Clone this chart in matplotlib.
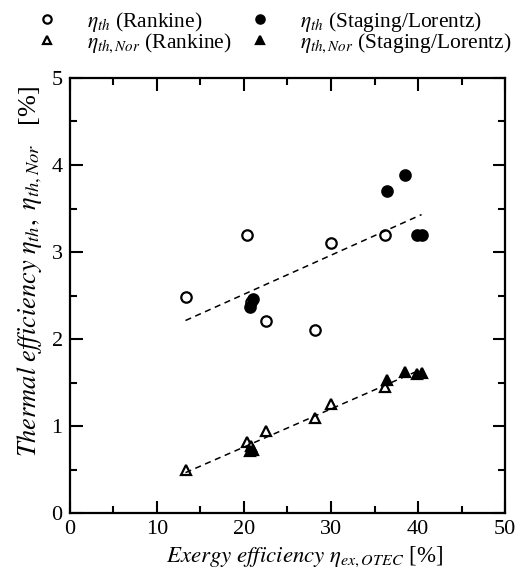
import numpy as np
import matplotlib
matplotlib.use("Agg")
import matplotlib.pyplot as plt
from matplotlib.ticker import MultipleLocator

plt.rcParams['font.family'] = ['Liberation Serif', 'DejaVu Serif']
plt.rcParams['mathtext.fontset'] = 'stix'

# thermal efficiency, Rankine cycles
ex_rank = [13.3, 20.4, 20.8, 22.5, 28.2, 30.0, 36.2]
th_rank = [2.49, 3.20, 2.43, 2.21, 2.11, 3.10, 3.20]
# thermal efficiency, staging / Lorentz cycles
ex_stag = [20.7, 21.1, 36.4, 38.5, 39.9, 40.4]
th_stag = [2.37, 2.46, 3.70, 3.89, 3.20, 3.20]
# normalised thermal efficiency
nor_rank = [0.50, 0.82, 0.77, 0.95, 1.09, 1.26, 1.45]
nor_stag = [0.72, 0.73, 1.53, 1.62, 1.60, 1.61]

fig = plt.figure(figsize=(5.16, 5.68), dpi=100)
ax = fig.add_axes([0.135, 0.096, 0.844, 0.767])

ms = 7.5
h1, = ax.plot(ex_rank, th_rank, 'o', mfc='white', mec='black', mew=1.6, ms=ms, ls='none')
h2, = ax.plot(ex_stag, th_stag, 'o', mfc='black', mec='black', mew=1.6, ms=ms, ls='none')
h3, = ax.plot(ex_rank, nor_rank, '^', mfc='white', mec='black', mew=1.6, ms=ms, ls='none')
h4, = ax.plot(ex_stag, nor_stag, '^', mfc='black', mec='black', mew=1.6, ms=ms, ls='none')

# linear fits over all points
x_all = np.array(ex_rank + ex_stag)
for y_all in (th_rank + th_stag, nor_rank + nor_stag):
    k, b = np.polyfit(x_all, np.array(y_all), 1)
    xs = np.array([x_all.min(), x_all.max()])
    ax.plot(xs, k * xs + b, '--', color='black', lw=1.1, dashes=(4, 3))

ax.set_xlim(0, 50)
ax.set_ylim(0, 5)
ax.xaxis.set_major_locator(MultipleLocator(10))
ax.xaxis.set_minor_locator(MultipleLocator(5))
ax.yaxis.set_major_locator(MultipleLocator(1))
ax.yaxis.set_minor_locator(MultipleLocator(0.5))
ax.tick_params(which='both', direction='in', top=True, right=True, width=1.5, labelsize=16, pad=5)
ax.tick_params(which='major', length=9)
ax.tick_params(which='minor', length=5)
for s in ax.spines.values():
    s.set_linewidth(1.6)

ax.set_xlabel(r'$\mathit{Exergy\ efficiency}\ \eta_{ex,OTEC}$ [%]', fontsize=16.5)
ax.set_ylabel(r'$\mathit{Thermal\ efficiency}\ \eta_{th},\ \eta_{th,Nor}$   [%]', fontsize=19)
ax.xaxis.set_label_coords(0.54, -0.072)
ax.yaxis.set_label_coords(-0.058, 0.555)

fig.legend([h1, h3, h2, h4],
           [r'$\eta_{th}$ (Rankine)', r'$\eta_{th,Nor}$ (Rankine)',
            r'$\eta_{th}$ (Staging/Lorentz)', r'$\eta_{th,Nor}$ (Staging/Lorentz)'],
           ncol=2, loc='upper left', bbox_to_anchor=(0.07, 0.983), frameon=False,
           borderpad=0, borderaxespad=0,
           fontsize=15.5, handletextpad=1.35, columnspacing=0.85, labelspacing=-0.1,
           handlelength=1.0, markerscale=0.8)

fig.savefig('out.png', dpi=100)
